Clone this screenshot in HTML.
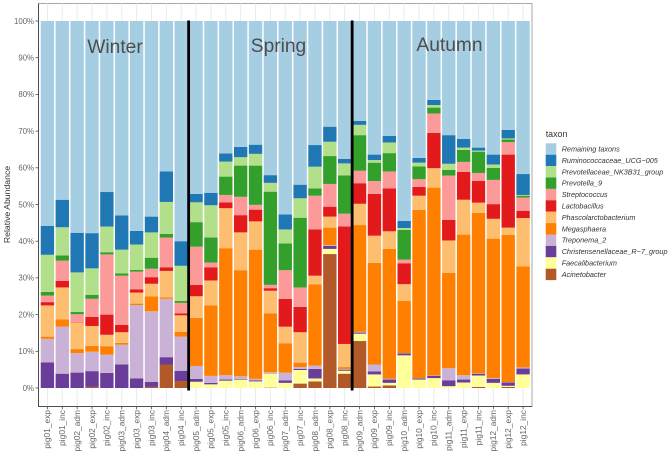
<!DOCTYPE html>
<html lang="en">
<head>
<meta charset="utf-8">
<title>Relative abundance by sample</title>
<style>
  html, body { margin: 0; padding: 0; background: #fff; }
  body { width: 669px; height: 451px; overflow: hidden; }
  svg { display: block; font-family: "Liberation Sans", sans-serif; }
</style>
</head>
<body>
<svg id="chart" width="669" height="451" viewBox="0 0 669 451" xmlns="http://www.w3.org/2000/svg"></svg>
<script>
const samples = ["pig01_exp","pig01_inc","pig02_adm","pig02_exp","pig02_inc","pig03_adm","pig03_exp","pig03_inc","pig04_adm","pig04_inc","pig05_adm","pig05_exp","pig05_inc","pig06_adm","pig06_exp","pig06_inc","pig07_adm","pig07_inc","pig08_adm","pig08_exp","pig08_inc","pig09_adm","pig09_exp","pig09_inc","pig10_adm","pig10_exp","pig10_inc","pig11_adm","pig11_exp","pig11_inc","pig12_adm","pig12_exp","pig12_inc"];
const yTickValues = [0,10,20,30,40,50,60,70,80,90,100];

const acinetobacter = [0,0,0,.3,0,0,0,.3,6.4,1.9,0,0,0,0,0,.1,0,1.2,1.8,36.5,3.9,12.8,.4,.7,0,0,0,0,0,.3,0,.3,0];
const faecalibacterium = [0,0,0,0,0,0,0,0,0,0,1.7,1,2,2.3,1.8,3.9,1.4,3.7,.8,1.4,.8,2,3.3,.7,8.9,2.3,2.7,.5,1.5,3.1,1.4,.3,3.7];
const christensenellaceae = [7,3.9,4.2,4.3,4.1,6.4,2.6,1.4,2,2.8,.8,.4,.3,.2,.3,.1,.7,.3,2.6,.8,.3,.3,.8,.9,.5,.3,.6,1.6,.8,.5,1.1,.9,1.6];
const treponema = [6.4,12.8,5.3,5.3,5,5.4,20,19.2,15.9,9.3,3.5,1.9,1.2,.7,.4,.2,2.1,.5,.9,.2,.2,.2,1.9,.2,.1,.1,.1,3.3,1.2,.1,.2,.1,.3];
const megasphaera = [.6,2,1.1,1.6,2.3,.5,.4,4.1,.4,1.3,13.1,19.2,34.6,28.9,35.2,16,8,1.2,22.1,4.8,.5,29.1,27.7,35.4,14.2,45.8,51.2,26,38.3,43.7,38,40.1,27.5];
const phascolarctobacterium = [8.5,8.7,7.3,5.4,3.1,2.9,3,3.4,7.2,4.5,5.9,6.8,10.9,10.3,7.7,6.2,4.5,8.3,2.4,3,6.3,5.8,7.4,4.8,4.6,3.9,5.3,8.8,9.5,2.8,5.4,2,13.2];
const lactobacillus = [.9,1.8,.1,2.5,5.5,2,.9,1.8,1,.5,3.1,3.6,1.6,4.7,3.2,.7,7.6,6.9,12.6,2.7,32,5.6,11.4,11.7,5.7,2.4,9.6,5.6,7.6,5.9,4,19.9,2];
const streptococcus = [1.8,5.5,2.1,4.9,16.4,13.4,4.8,2.3,8.1,2.9,10.4,1.3,2,5,1.3,.9,7.8,5.3,9.2,6.2,3.5,3.4,3.5,4.6,1,2.1,5.3,12.1,2.7,2.2,6.6,3.4,3.6];
const prevotella9 = [1,1.4,.6,1.1,.6,.6,.5,3,1,.5,6.7,6.8,5,8.5,10.7,25.4,7.3,19,2,7.6,10.4,9.7,5,5,8.1,3.5,1.6,1.5,3.3,5.8,3.3,.7,.5];
const prevotellaceaeNK = [10.1,7.7,10.8,7.2,7,6.5,6.9,6.9,8.7,9.6,5.4,8.8,4.1,2.3,3.2,2.4,3.8,5.3,5.9,3.9,3.3,2.8,.7,2.9,.5,1,.7,1.7,.6,.3,.9,.3,.2];
const ruminococcaceae = [7.9,7.5,10.8,9.6,9.4,9.3,3.7,4.3,8.3,6.7,2.3,3.4,2.2,2.8,2.5,2.1,4.1,3.7,5.9,4.1,1.2,1.1,1.5,1.8,1.9,1.3,1.4,7.8,2.4,.8,2.7,2.3,5.7];
const remainingTaxons = [55.8,48.7,57.7,57.8,46.6,53,57.2,53.3,41,60,47.1,46.8,36.1,34.3,33.7,42,52.7,44.6,33.8,28.8,37.6,27.2,36.4,31.3,54.5,37.3,21.5,31.1,32.1,34.5,36.4,29.7,41.7];

// Top-of-legend first; stacked bottom-up in reverse of this order.
const taxa = ["Remaining taxons","Ruminococcaceae_UCG\u2212005","Prevotellaceae_NK3B31_group","Prevotella_9","Streptococcus","Lactobacillus","Phascolarctobacterium","Megasphaera","Treponema_2","Christensenellaceae_R\u22127_group","Faecalibacterium","Acinetobacter"];
const taxaValues = [remainingTaxons,ruminococcaceae,prevotellaceaeNK,prevotella9,streptococcus,lactobacillus,phascolarctobacterium,megasphaera,treponema,christensenellaceae,faecalibacterium,acinetobacter];
const palette = ["#A6CEE3","#1F78B4","#B2DF8A","#33A02C","#FB9A99","#E31A1C","#FDBF6F","#FF7F00","#CAB2D6","#6A3D9A","#FFFF99","#B15928"];

const seasonNames = ["Winter","Spring","Autumn"];
const seasonDividerAfter = ["pig04_inc","pig08_inc"];

const NS = "http://www.w3.org/2000/svg";
const svg = document.getElementById("chart");
const panel = { left: 38.5, right: 532, top: 3.5, bottom: 406.5 };
const y0 = 388, y100 = 21;
const unit = (panel.right - panel.left) / (samples.length - 1 + 1.2);
const barWidth = unit * 0.9;

function xScale(i) { return panel.left + (i + 0.6) * unit; }
function yScale(v) { return y0 + (y100 - y0) * v / 100; }
function make(tag, attrs, parent) {
  const el = document.createElementNS(NS, tag);
  for (const k in attrs) el.setAttribute(k, attrs[k]);
  (parent || svg).appendChild(el);
  return el;
}

// panel background
const panelBg = make("rect", { x: panel.left, y: panel.top, width: panel.right - panel.left, height: panel.bottom - panel.top, fill: "#ffffff", stroke: "#a8a8a8", "stroke-width": 1 });



// vertical grid lines
samples.forEach(function (s, i) {
  const g = make("line", { x1: xScale(i), x2: xScale(i), y1: panel.top, y2: panel.bottom, stroke: "#ebebeb", "stroke-width": 1 });
  
  
});

// stacked bars
samples.forEach(function (s, i) {
  const group = make("g", {});
  
  
  let cum = 0;
  for (let t = taxa.length - 1; t >= 0; t--) {
    const v = taxaValues[t][i];
    if (v > 0) {
      const r = make("rect", { x: xScale(i) - barWidth / 2, y: yScale(cum + v), width: barWidth, height: yScale(cum) - yScale(cum + v), fill: palette[t] }, group);
      
      
    }
    cum += v;
  }
});

// axis lines
const yAxisLine = make("line", { x1: panel.left, x2: panel.left, y1: panel.top, y2: panel.bottom + 0.5, stroke: "#4d4d4d", "stroke-width": 1 });


const xAxisLine = make("line", { x1: panel.left, x2: panel.right, y1: panel.bottom, y2: panel.bottom, stroke: "#4d4d4d", "stroke-width": 1 });



// y ticks
yTickValues.forEach(function (v) {
  const tick = make("line", { x1: panel.left - 3, x2: panel.left, y1: yScale(v), y2: yScale(v), stroke: "#4d4d4d", "stroke-width": 0.8 });
  
  
  const label = make("text", { x: panel.left - 4.5, y: yScale(v) + 2.8, "text-anchor": "end", "font-size": 7.8, fill: "#666666" });
  label.textContent = v + "%";
  
  
});

// x ticks
samples.forEach(function (s, i) {
  const tick = make("line", { x1: xScale(i), x2: xScale(i), y1: panel.bottom, y2: panel.bottom + 2.8, stroke: "#4d4d4d", "stroke-width": 0.8 });
  
  
  const label = make("text", { transform: "translate(" + (xScale(i) + 2.8) + ",410) rotate(-90)", "text-anchor": "end", "font-size": 8.4, fill: "#666666" });
  label.textContent = s;
  
  
});

// season dividers
seasonDividerAfter.forEach(function (s) {
  const i = samples.indexOf(s);
  const x = (xScale(i) + xScale(i + 1)) / 2;
  const d = make("line", { x1: x, x2: x, y1: 20.5, y2: 390.5, stroke: "#000000", "stroke-width": 2.8 });
  
  
});

// season labels
const seasonCentres = [115, 278.5, 449.5];
const seasonBaselines = [53, 52, 51];
seasonNames.forEach(function (s, i) {
  const t = make("text", { x: seasonCentres[i], y: seasonBaselines[i], "text-anchor": "middle", "font-size": 19.2, fill: "#4d4d4d" });
  t.textContent = s;
  
  
});

// y axis title
const yTitle = make("text", { transform: "translate(10,204.5) rotate(-90)", "text-anchor": "middle", "font-size": 8.7, fill: "#333333" });
yTitle.textContent = "Relative Abundance";



// legend
const legend = make("g", {});


const legendTitle = make("text", { x: 545.7, y: 137, "font-size": 8.9, fill: "#333333" }, legend);
legendTitle.textContent = "taxon";


const keyTop = 143.3, keyH = 11.4;
taxa.forEach(function (t, i) {
  const key = make("rect", { x: 545.7, y: keyTop + i * keyH, width: 10.6, height: keyH, fill: palette[i] }, legend);
  
  
  const label = make("text", { x: 561.7, y: keyTop + i * keyH + keyH / 2 + 2.5, "font-size": 7.26, "font-style": "italic", fill: "#333333" }, legend);
  label.textContent = t;
  
  
});
</script>
</body>
</html>
